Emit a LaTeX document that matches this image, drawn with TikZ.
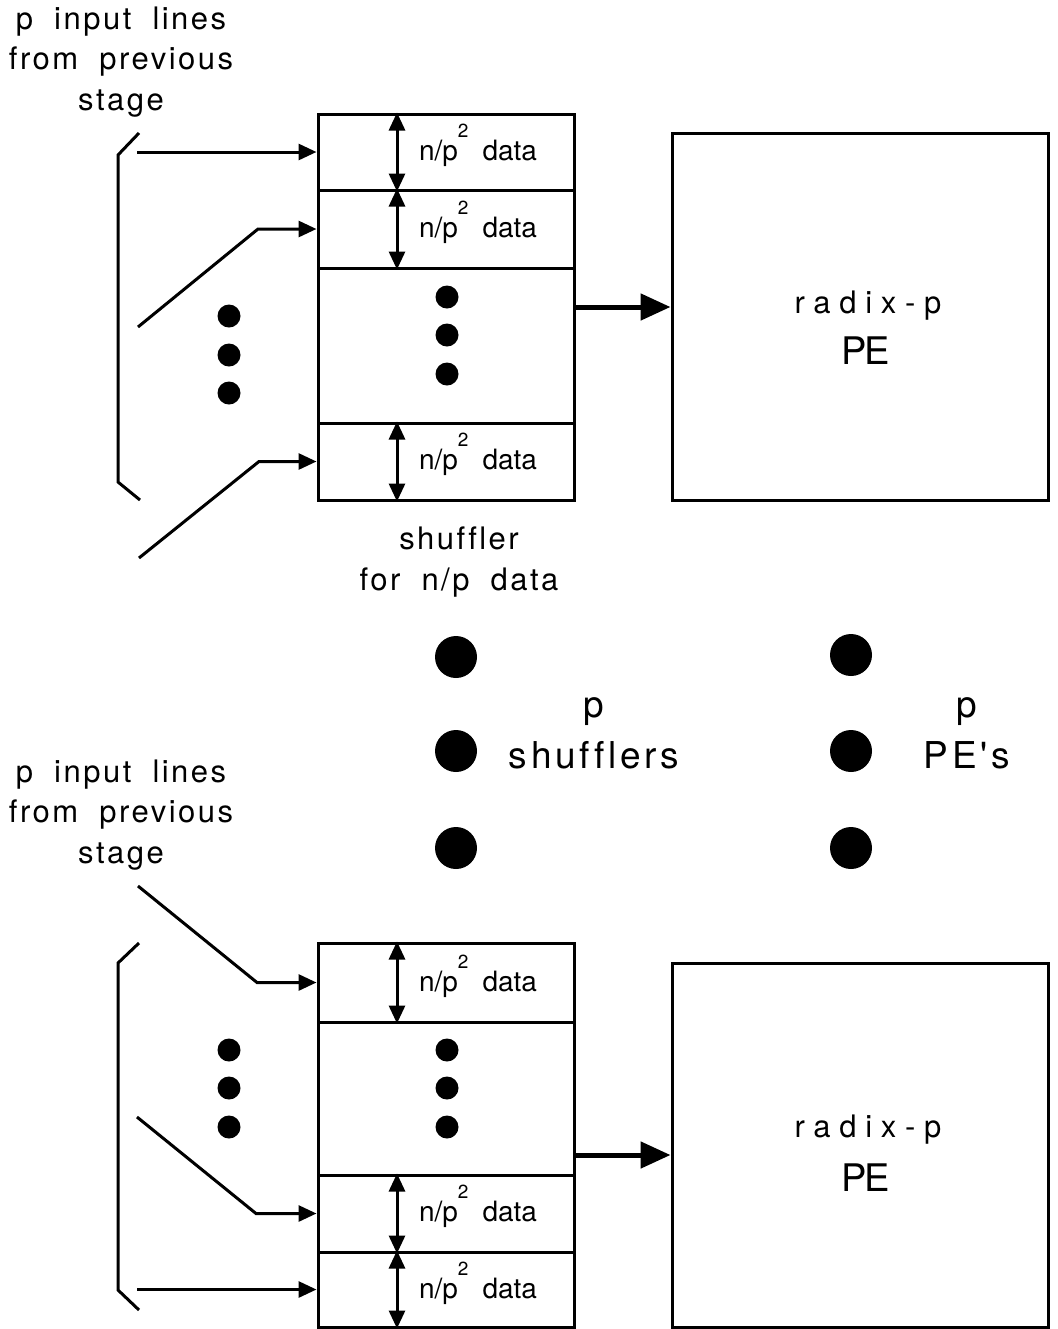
\documentclass[tikz,border=0pt]{standalone}
\usepackage{fontspec}
\setmainfont{TeX Gyre Heros}[Ligatures=NoCommon]
\newfontfamily\spacedfont{TeX Gyre Heros}[LetterSpace=8, WordSpace=1.9, Ligatures=NoCommon]
\newfontfamily\largefont{TeX Gyre Heros}[LetterSpace=10, WordSpace=1.5, Ligatures=NoCommon]
\newfontfamily\widefont{TeX Gyre Heros}[LetterSpace=28, Ligatures=NoCommon]
\newfontfamily\tightfont{TeX Gyre Heros}[LetterSpace=-6]
\usetikzlibrary{arrows.meta,fit}
\newcommand\npdata{n/p\raisebox{11.5pt}{\fontsize{9.5}{9.5}\selectfont 2}\hspace{7pt}data}

\begin{document}
\begin{tikzpicture}[x=0.5pt,y=-0.5pt,
  seg/.style={draw, line width=1.5pt, inner sep=0pt},
  feed/.style={line width=1.5pt, -{Triangle[length=9pt,width=8pt]}},
  bracket/.style={line width=1.5pt},
  span/.style={line width=1.5pt, {Triangle[length=9pt,width=8pt]}-{Triangle[length=9pt,width=8pt]}},
  output/.style={line width=2.5pt, -{Triangle[length=15pt,width=13pt]}},
  smalldot/.style={circle, fill, inner sep=0pt, minimum size=11.5pt},
  bigdot/.style={circle, fill, inner sep=0pt, minimum size=21pt},
  caption/.style={font=\spacedfont\fontsize{15.5}{20.25}\selectfont, align=center},
  bigcaption/.style={font=\largefont\fontsize{18.5}{25.5}\selectfont, align=center},
  datalabel/.style={anchor=base, font=\fontsize{14}{15}\selectfont, inner sep=0pt},
  radixlabel/.style={anchor=base, font=\widefont\fontsize{15.5}{16}\selectfont, inner sep=0pt},
  pelabel/.style={anchor=base, font=\tightfont\fontsize{19}{20}\selectfont, inner sep=0pt},
]
\useasboundingbox (0,0) rectangle (1057,1329);

% ---------------- upper stage ----------------
\node[caption] (cap1) at (121,62) {p input lines\\from previous\\stage};

% shuffler segments
\node[seg, fit={(318,114)(574,190)}] (s1) {};
\node[seg, fit={(318,190)(574,268)}] (s2) {};
\node[seg, fit={(318,268)(574,423)}] (sm) {};
\node[seg, fit={(318,423)(574,500)}] (s3) {};
% processing element
\node[seg, fit={(672,133)(1048,500)}] (pe1) {};

% segment extents and sizes
\coordinate (ax) at (397,0);
\draw[span] (ax |- s1.north) -- (ax |- s1.south);
\draw[span] (ax |- s2.north) -- (ax |- s2.south);
\draw[span] (ax |- s3.north) -- (ax |- s3.south);
\node[datalabel] (l1) at (478,160) {\npdata};
\node[datalabel] (l2) at (478,237) {\npdata};
\node[datalabel] (l3) at (478,469) {\npdata};

% bracket of input lines
\coordinate (b1a) at (139,133);
\coordinate (b1b) at (118,155);
\coordinate (b1c) at (118,482);
\coordinate (b1d) at (140,500);
\draw[bracket] (b1a) -- (b1b) -- (b1c) -- (b1d);

% input lines
\coordinate (i1) at (137,152);
\coordinate (i2a) at (138,327);
\coordinate (i2b) at (258,229);
\coordinate (i3a) at (139,558);
\coordinate (i3b) at (259,461.5);
\draw[feed] (i1) -- (s1.west);
\draw[feed] (i2a) -- (i2b) -- (s2.west);
\draw[feed] (i3a) -- (i3b) -- (s3.west);

% elided lines and segments
\node[smalldot] (d1) at (229,316) {};
\node[smalldot] (d2) at (229,355) {};
\node[smalldot] (d3) at (229,393) {};
\node[smalldot] (e1) at (447,297) {};
\node[smalldot] (e2) at (447,335) {};
\node[smalldot] (e3) at (447,374) {};

% shuffler output to the PE
\coordinate (ya) at (0,307);
\draw[output] (sm.east |- ya) -- (pe1.west |- ya);
\node[radixlabel] (r1) at (868,313) {radix-p};
\node[pelabel] (p1) at (866,364) {PE};

\node[caption] (cap2) at (459,562) {shuffler\\for n/p data};

% ---------------- repetition ----------------
\node[bigdot] (g1) at (456,657) {};
\node[bigdot] (g2) at (456,751) {};
\node[bigdot] (g3) at (456,848) {};
\node[bigdot] (h1) at (851,655) {};
\node[bigdot] (h2) at (851,751) {};
\node[bigdot] (h3) at (851,848) {};
\node[bigcaption] (cap3) at (594,733) {p\\shufflers};
\node[bigcaption] (cap4) at (967,733) {p\\PE's};

% ---------------- lower stage ----------------
\node[caption] (cap5) at (121,815) {p input lines\\from previous\\stage};

\node[seg, fit={(318,943)(574,1022)}] (t1) {};
\node[seg, fit={(318,1022)(574,1175)}] (tm) {};
\node[seg, fit={(318,1175)(574,1252)}] (t2) {};
\node[seg, fit={(318,1252)(574,1327)}] (t3) {};
\node[seg, fit={(672,963)(1048,1327)}] (pe2) {};

\draw[span] (ax |- t1.north) -- (ax |- t1.south);
\draw[span] (ax |- t2.north) -- (ax |- t2.south);
\draw[span] (ax |- t3.north) -- (ax |- t3.south);
\node[datalabel] (m1) at (478,991) {\npdata};
\node[datalabel] (m2) at (478,1221) {\npdata};
\node[datalabel] (m3) at (478,1298) {\npdata};

\coordinate (b2a) at (139,943);
\coordinate (b2b) at (118,963);
\coordinate (b2c) at (118,1290);
\coordinate (b2d) at (139,1310);
\draw[bracket] (b2a) -- (b2b) -- (b2c) -- (b2d);

\coordinate (j1a) at (138,886);
\coordinate (j1b) at (257,982.5);
\coordinate (j2a) at (137,1117);
\coordinate (j2b) at (256,1213.5);
\coordinate (j3) at (137,1289.5);
\draw[feed] (j1a) -- (j1b) -- (t1.west);
\draw[feed] (j2a) -- (j2b) -- (t2.west);
\draw[feed] (j3) -- (t3.west);

\node[smalldot] (f1) at (229,1050) {};
\node[smalldot] (f2) at (229,1088) {};
\node[smalldot] (f3) at (229,1127) {};
\node[smalldot] (k1) at (447,1050) {};
\node[smalldot] (k2) at (447,1088) {};
\node[smalldot] (k3) at (447,1127) {};

\coordinate (yb) at (0,1155);
\draw[output] (tm.east |- yb) -- (pe2.west |- yb);
\node[radixlabel] (r2) at (868,1137) {radix-p};
\node[pelabel] (p2) at (866,1191) {PE};
\end{tikzpicture}
\end{document}
